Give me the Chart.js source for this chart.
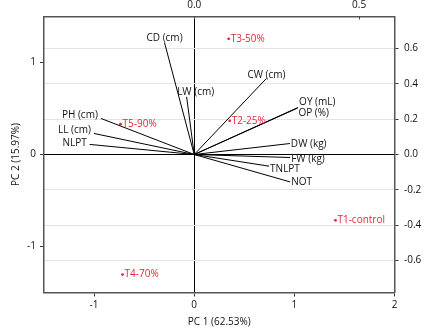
<!DOCTYPE html>
<html>
<head>
<meta charset="utf-8">
<script src="https://cdn.jsdelivr.net/npm/chart.js@4.4.0/dist/chart.umd.min.js"></script>
<style>
  html, body { margin: 0; padding: 0; background: #fff; }
  #wrap { width: 426px; height: 333px; }
</style>
</head>
<body>
<div id="wrap"><canvas id="biplot" width="426" height="333"></canvas></div>
<script>
// 處理組得分 (PC1, PC2)
const treatments = ['T1-control', 'T2-25%', 'T3-50%', 'T4-70%', 'T5-90%'];
const scorePC1 = [1.41, 0.354, 0.344, -0.716, -0.736];
const scorePC2 = [-0.716, 0.366, 1.257, -1.305, 0.330];

// 變數負荷量 (上方 / 右方座標軸)
const variables = ['CD (cm)', 'LW (cm)', 'PH (cm)', 'LL (cm)', 'NLPT', 'CW (cm)',
                   'OY (mL)', 'OP (%)', 'DW (kg)', 'FW (kg)', 'TNLPT', 'NOT'];
const loadPC1 = [-0.090, -0.023, -0.283, -0.304, -0.317, 0.219, 0.315, 0.313, 0.290, 0.291, 0.227, 0.291];
const loadPC2 = [0.632, 0.326, 0.204, 0.119, 0.057, 0.430, 0.266, 0.262, 0.062, -0.017, -0.066, -0.155];

// 刻度
const pc1Ticks = [-1, 0, 1, 2];
const pc2Ticks = [-1, 0, 1];
const load1Ticks = [0, 0.5];
const load2Ticks = [-0.6, -0.4, -0.2, 0, 0.2, 0.4, 0.6];

const FONT = { family: 'Open Sans', size: 10 };
const RED = '#e3283a';
const AXIS = '#555';
const INK = '#111';

// 個別標籤微調 (px)
const labelNudge = {
  'LW (cm)': [9, 0],
  'CW (cm)': [0, 1.5],
  'NLPT': [0, 2],
  'OY (mL)': [0, -6],
  'OP (%)': [0, 5],
  'FW (kg)': [0, 1.5],
  'TNLPT': [0, 2]
};

// 變數箭線 + 處理點的文字
const biplotLabels = {
  id: 'biplotLabels',
  afterDatasetsDraw(chart) {
    const { ctx } = chart;
    ctx.save();
    ctx.font = `${FONT.size}px "${FONT.family}"`;
    ctx.textBaseline = 'middle';

    chart.data.datasets.forEach((ds, i) => {
      const meta = chart.getDatasetMeta(i);
      if (ds.kind === 'loading') {
        const o = meta.data[0], p = meta.data[1];
        const dx = p.x - o.x, dy = o.y - p.y;
        const [nx, ny] = labelNudge[ds.label] || [0, 0];
        ctx.fillStyle = INK;
        if (dy > 0.9 * Math.abs(dx)) {
          ctx.textAlign = 'center';
          ctx.fillText(ds.label, p.x + nx, p.y - 5 + ny);
        } else if (dx > 0) {
          ctx.textAlign = 'left';
          ctx.fillText(ds.label, p.x + 1 + nx, p.y + 0.5 + ny);
        } else {
          ctx.textAlign = 'right';
          ctx.fillText(ds.label, p.x - 3 + nx, p.y - 3 + ny);
        }
      } else if (ds.kind === 'score') {
        ctx.fillStyle = RED;
        ctx.textAlign = 'left';
        meta.data.forEach((pt, j) => {
          ctx.fillText(treatments[j], pt.x + 2, pt.y);
        });
      }
    });

    // 上方座標軸的內向刻度
    const top = chart.scales.x2;
    ctx.strokeStyle = '#444';
    ctx.lineWidth = 1;
    load1Ticks.forEach(v => {
      const x = Math.round(top.getPixelForValue(v)) + 0.5;
      ctx.beginPath();
      ctx.moveTo(x, chart.chartArea.top);
      ctx.lineTo(x, chart.chartArea.top + 3);
      ctx.stroke();
    });
    ctx.restore();
  }
};

const loadingSets = variables.map((name, i) => ({
  kind: 'loading',
  label: name,
  data: [{ x: 0, y: 0 }, { x: loadPC1[i], y: loadPC2[i] }],
  xAxisID: 'x2',
  yAxisID: 'y2',
  showLine: true,
  borderColor: '#000',
  borderWidth: 1,
  pointRadius: 0
}));

const scoreSet = {
  kind: 'score',
  label: 'scores',
  data: scorePC1.map((x, i) => ({ x: x, y: scorePC2[i] })),
  xAxisID: 'x',
  yAxisID: 'y',
  showLine: false,
  pointRadius: 1.4,
  pointBackgroundColor: RED,
  pointBorderWidth: 0
};

const fixTicks = list => scale => { scale.ticks = list.map(v => ({ value: v })); };
const fixed1 = v => Number(v).toFixed(1);

new Chart(document.getElementById('biplot'), {
  type: 'scatter',
  data: { datasets: [...loadingSets, scoreSet] },
  plugins: [biplotLabels],
  options: {
    responsive: false,
    animation: false,
    layout: { padding: 0 },
    plugins: {
      legend: { display: false },
      tooltip: { enabled: false }
    },
    scales: {
      x: {
        position: 'bottom',
        min: -1.5, max: 2,
        afterBuildTicks: fixTicks(pc1Ticks),
        afterFit: s => { s.height = 40.5; },
        border: { color: AXIS, width: 1.5 },
        grid: {
          color: c => (c.tick && c.tick.value === 0 ? '#000' : 'transparent'),
          tickColor: '#333',
          tickLength: 4
        },
        ticks: { font: FONT, color: INK, padding: 3, maxRotation: 0 },
        title: { display: true, text: 'PC 1 (62.53%)', font: FONT, color: INK, padding: { top: 0, bottom: 5 } }
      },
      y: {
        position: 'left',
        min: -1.5, max: 1.5,
        afterBuildTicks: fixTicks(pc2Ticks),
        afterFit: s => { s.width = 44; },
        border: { color: AXIS, width: 1.5 },
        grid: { color: 'transparent', tickColor: '#333', tickLength: 4 },
        ticks: { font: FONT, color: INK, padding: 4 },
        title: { display: true, text: 'PC 2 (15.97%)', font: FONT, color: INK, padding: { top: 10.5, bottom: 0 } }
      },
      x2: {
        position: 'top',
        min: -0.4554, max: 0.6072,
        afterBuildTicks: fixTicks(load1Ticks),
        afterFit: s => { s.height = 16.5; },
        border: { color: AXIS, width: 1.5 },
        grid: { drawOnChartArea: false, drawTicks: false },
        ticks: { font: FONT, color: INK, padding: 5, callback: fixed1, maxRotation: 0 }
      },
      y2: {
        position: 'right',
        min: -0.78, max: 0.78,
        afterBuildTicks: fixTicks(load2Ticks),
        afterFit: s => { s.width = 31.5; },
        border: { color: AXIS, width: 1.5 },
        grid: {
          color: c => (c.tick && Math.abs(c.tick.value) < 1e-9 ? '#000' : '#e4e4e4'),
          tickColor: '#333',
          tickLength: 4
        },
        ticks: { font: FONT, color: INK, padding: 5.5, callback: fixed1 }
      }
    }
  }
});
</script>
</body>
</html>
